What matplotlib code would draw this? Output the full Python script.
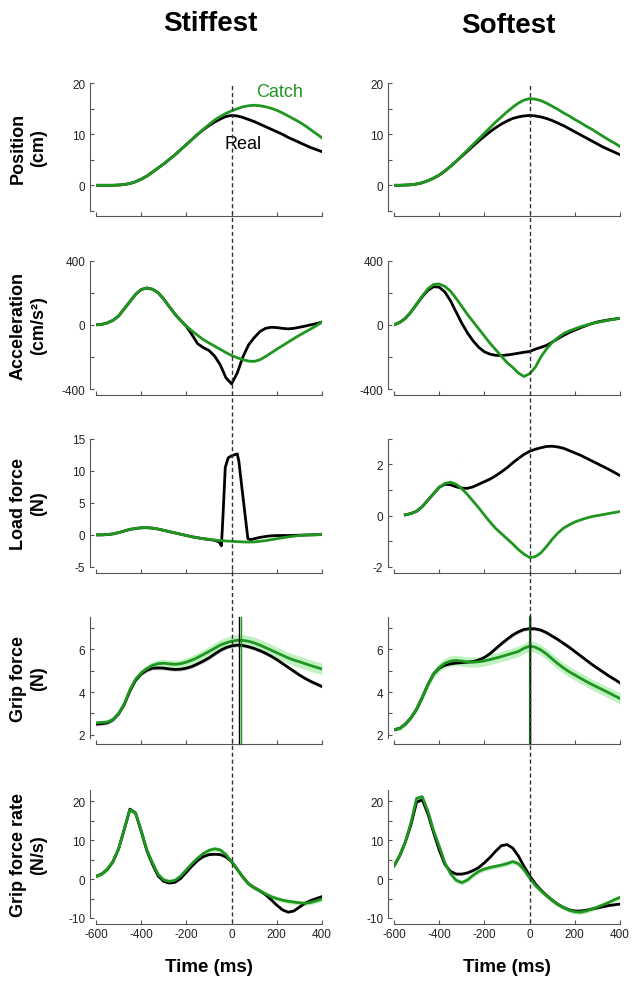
#!/usr/bin/env python3
#
import matplotlib.pyplot as plt
import numpy as np

plt.rcParams.update({
  'font.family': ['Liberation Sans', 'DejaVu Sans'],
  'font.size': 8.5,
  'axes.linewidth': 0.8,
})

W, H = 638, 987
GREEN = '#1f961f'
BAND_GREEN = '#a6eca6'
BAND_GRAY = '#b0b0b0'
AXIS_GRAY = '#555555'

TIME = np.arange(-600, 401, 25)
XTICKS = [-600, -400, -200, 0, 200, 400]

# position (cm)
POS_L_CATCH = [0, 0, 0, 0, 0.05, 0.15, 0.35, 0.7,
               1.2, 1.8, 2.6, 3.4, 4.2, 5.1, 6.0, 7.0,
               8.0, 9.0, 10.0, 11.0, 11.9, 12.8, 13.5, 14.1,
               14.6, 15.0, 15.4, 15.6, 15.7, 15.6, 15.4, 15.1,
               14.7, 14.2, 13.6, 13.0, 12.4, 11.7, 10.9, 10.1,
               9.3]
POS_L_REAL = [0, 0, 0, 0, 0.05, 0.15, 0.35, 0.7,
              1.2, 1.8, 2.6, 3.4, 4.2, 5.1, 6.0, 7.0,
              8.0, 9.0, 10.0, 10.9, 11.7, 12.4, 13.0, 13.5,
              13.7, 13.6, 13.3, 12.9, 12.5, 12.0, 11.5, 11.0,
              10.5, 10.0, 9.4, 8.9, 8.4, 7.9, 7.4, 7.0,
              6.6]
POS_R_CATCH = [0, 0, 0.05, 0.1, 0.25, 0.5, 0.9, 1.4,
               2.0, 2.8, 3.7, 4.7, 5.8, 6.9, 8.0, 9.1,
               10.2, 11.3, 12.4, 13.4, 14.4, 15.3, 16.1, 16.7,
               17.0, 16.9, 16.6, 16.1, 15.5, 14.9, 14.2, 13.6,
               12.9, 12.3, 11.6, 11.0, 10.3, 9.6, 8.9, 8.3,
               7.6]
POS_R_REAL = [0, 0, 0.05, 0.1, 0.25, 0.5, 0.9, 1.4,
              2.0, 2.8, 3.7, 4.7, 5.7, 6.7, 7.7, 8.7,
              9.6, 10.5, 11.3, 12.0, 12.6, 13.1, 13.4, 13.6,
              13.7, 13.6, 13.4, 13.1, 12.7, 12.2, 11.7, 11.1,
              10.5, 9.9, 9.3, 8.7, 8.1, 7.5, 7.0, 6.5,
              6.0]

# acceleration (cm/s2)
ACC_L_CATCH = [0, 3, 12, 28, 55, 100, 145, 190,
               220, 230, 222, 200, 160, 112, 66, 27,
               -8, -38, -66, -92, -113, -133, -153, -173,
               -191, -205, -217, -226, -228, -218, -198, -175,
               -152, -130, -108, -86, -65, -45, -26, -5,
               17]
ACC_L_REAL = [0, 3, 12, 28, 55, 100, 145, 190,
              220, 230, 222, 200, 160, 112, 66, 27,
              -10, -62, -118, -142, -160, -195, -250, -330,
              -368, -300, -200, -125, -80, -42, -22, -15,
              -17, -22, -25, -22, -15, -8, 0, 8,
              17]
ACC_R_CATCH = [0, 15, 40, 80, 130, 180, 225, 252,
               255, 240, 210, 165, 115, 65, 20, -25,
               -70, -115, -155, -195, -235, -265, -300, -322,
               -305, -265, -200, -150, -110, -80, -55, -38,
               -25, -12, -2, 8, 15, 22, 29, 35,
               41]
ACC_R_REAL = [0, 15, 40, 80, 128, 175, 215, 238,
              235, 205, 150, 80, 10, -50, -100, -140,
              -168, -183, -190, -191, -188, -183, -177, -171,
              -166, -152, -140, -128, -108, -86, -66, -48,
              -33, -18, -5, 8, 18, 25, 31, 36,
              41]

# load force (N)
LF_L_CATCH = [0, 0, 0.05, 0.15, 0.35, 0.6, 0.85, 1.0,
              1.1, 1.12, 1.05, 0.9, 0.7, 0.5, 0.3, 0.1,
              -0.1, -0.3, -0.45, -0.6, -0.7, -0.8, -0.9, -0.95,
              -1.0, -1.05, -1.1, -1.12, -1.1, -1.0, -0.9, -0.75,
              -0.6, -0.45, -0.32, -0.2, -0.1, -0.03, 0.0, 0.02,
              0.05]
LF_L_REAL_TIME = [-600, -575, -550, -525, -500, -475, -450, -425,
                  -400, -375, -350, -325, -300, -275, -250, -225,
                  -200, -175, -150, -125, -100, -75, -55, -45,
                  -38, -28, -15, 0, 15, 25, 32, 45,
                  60, 72, 85, 100, 125, 150, 175, 200,
                  250, 300, 350, 400]
LF_L_REAL = [0, 0, 0.05, 0.15, 0.35, 0.6, 0.85, 1.0,
             1.1, 1.12, 1.05, 0.9, 0.7, 0.5, 0.3, 0.1,
             -0.1, -0.3, -0.45, -0.6, -0.72, -0.85, -1.1, -1.7,
             3.0, 10.5, 12.0, 12.3, 12.5, 12.6, 11.5, 7.5,
             3.0, -0.6, -0.75, -0.6, -0.4, -0.25, -0.15, -0.1,
             -0.1, -0.05, 0, 0.05]
LF_R_TIME = np.arange(-550, 401, 25)
LF_R_CATCH = [0.03, 0.08, 0.17, 0.35, 0.6, 0.85, 1.1, 1.25,
              1.3, 1.22, 1.05, 0.82, 0.56, 0.3, 0.02, -0.25,
              -0.5, -0.7, -0.9, -1.1, -1.32, -1.5, -1.63, -1.6,
              -1.45, -1.2, -0.92, -0.68, -0.49, -0.36, -0.25, -0.17,
              -0.1, -0.04, 0.0, 0.04, 0.08, 0.12, 0.16]
LF_R_REAL = [0.03, 0.08, 0.17, 0.35, 0.6, 0.85, 1.1, 1.22,
             1.2, 1.12, 1.07, 1.06, 1.12, 1.22, 1.32, 1.42,
             1.55, 1.7, 1.86, 2.05, 2.22, 2.38, 2.5, 2.58,
             2.64, 2.69, 2.7, 2.67, 2.62, 2.53, 2.44, 2.35,
             2.24, 2.13, 2.02, 1.91, 1.8, 1.68, 1.56]

# grip force (N), mean and band half-width
GF_L_CATCH = [2.56, 2.58, 2.6, 2.72, 3.0, 3.45, 4.1, 4.6,
              4.9, 5.1, 5.25, 5.33, 5.35, 5.32, 5.3, 5.33,
              5.4, 5.5, 5.62, 5.76, 5.9, 6.05, 6.2, 6.3,
              6.38, 6.42, 6.42, 6.38, 6.3, 6.2, 6.08, 5.96,
              5.84, 5.72, 5.6, 5.5, 5.42, 5.33, 5.24, 5.16,
              5.08]
GF_L_CATCH_SEM = [0.08, 0.08, 0.08, 0.09, 0.1, 0.12, 0.14, 0.15,
                  0.16, 0.17, 0.18, 0.18, 0.18, 0.18, 0.18, 0.19,
                  0.2, 0.21, 0.22, 0.23, 0.24, 0.25, 0.26, 0.26,
                  0.27, 0.27, 0.27, 0.27, 0.27, 0.27, 0.27, 0.27,
                  0.27, 0.27, 0.27, 0.27, 0.27, 0.27, 0.27, 0.27,
                  0.27]
GF_L_REAL = [2.5, 2.52, 2.56, 2.7, 2.98, 3.42, 4.05, 4.55,
             4.85, 5.02, 5.12, 5.13, 5.12, 5.08, 5.06, 5.07,
             5.12, 5.2, 5.32, 5.45, 5.6, 5.78, 5.95, 6.08,
             6.16, 6.2, 6.18, 6.12, 6.04, 5.94, 5.82, 5.68,
             5.52, 5.34, 5.16, 4.98, 4.8, 4.64, 4.5, 4.38,
             4.26]
GF_R_CATCH = [2.24, 2.3, 2.5, 2.8, 3.2, 3.75, 4.35, 4.85,
              5.15, 5.35, 5.45, 5.48, 5.45, 5.41, 5.4, 5.42,
              5.46, 5.52, 5.59, 5.66, 5.74, 5.82, 5.9, 6.05,
              6.15, 6.1, 5.97, 5.78, 5.55, 5.33, 5.13, 4.95,
              4.8, 4.65, 4.5, 4.36, 4.23, 4.1, 3.97, 3.83,
              3.7]
GF_R_CATCH_SEM = [0.08, 0.09, 0.1, 0.12, 0.14, 0.16, 0.18, 0.2,
                  0.22, 0.23, 0.24, 0.24, 0.24, 0.24, 0.24, 0.24,
                  0.24, 0.24, 0.24, 0.24, 0.24, 0.25, 0.25, 0.25,
                  0.25, 0.25, 0.25, 0.25, 0.25, 0.25, 0.25, 0.25,
                  0.25, 0.25, 0.25, 0.25, 0.25, 0.25, 0.25, 0.25,
                  0.25]
GF_R_REAL = [2.24, 2.3, 2.5, 2.8, 3.2, 3.75, 4.35, 4.85,
             5.12, 5.26, 5.32, 5.36, 5.38, 5.4, 5.43, 5.5,
             5.62, 5.8, 6.03, 6.26, 6.47, 6.67, 6.82, 6.93,
             6.97, 6.96, 6.9, 6.78, 6.62, 6.46, 6.28, 6.1,
             5.9, 5.7, 5.5, 5.3, 5.12, 4.94, 4.76, 4.6,
             4.43]
GF_REAL_SEM = 0.08
# time of grip force peak (ms): stiffest real / catch, softest real / catch
GF_PEAKS = [(32, 42), (0, 1)]

# grip force rate (N/s)
GR_L_CATCH = [0.7, 1.3, 2.5, 4.5, 7.8, 12.8, 17.8, 17.0,
              12.5, 7.5, 4.2, 1.2, -0.2, -0.6, -0.3, 0.8,
              2.4, 4.0, 5.4, 6.6, 7.4, 7.8, 7.5, 6.3,
              4.5, 2.5, 0.5, -1.2, -2.2, -3.0, -3.8, -4.5,
              -5.0, -5.4, -5.7, -5.9, -6.1, -6.2, -6.0, -5.6,
              -5.1]
GR_L_REAL = [0.7, 1.3, 2.5, 4.5, 7.8, 12.8, 18.0, 17.0,
             12.3, 7.3, 3.8, 0.8, -0.6, -1.0, -0.8, 0.2,
             1.8, 3.4, 4.8, 5.8, 6.3, 6.4, 6.3, 5.7,
             4.5, 2.5, 0.5, -1.2, -2.2, -3.0, -4.0, -5.3,
             -6.7, -7.9, -8.5, -8.2, -7.2, -6.2, -5.5, -5.0,
             -4.5]
GR_R_CATCH = [3.4, 6.0, 9.5, 14.5, 20.8, 21.2, 17.5, 12.5,
              8.5, 4.2, 1.4, -0.3, -0.9, -0.2, 1.0, 2.0,
              2.6, 3.0, 3.3, 3.6, 4.0, 4.5, 4.0, 2.4,
              0.3, -1.6, -3.0, -4.3, -5.5, -6.5, -7.3, -8.0,
              -8.4, -8.5, -8.2, -7.7, -7.2, -6.6, -6.0, -5.3,
              -4.7]
GR_R_REAL = [3.4, 6.0, 9.5, 14.0, 19.8, 20.4, 16.8, 12.0,
             7.5, 3.8, 2.0, 1.3, 1.3, 1.6, 2.2, 3.0,
             4.2, 5.6, 7.2, 8.6, 8.9, 8.0, 6.0, 3.3,
             0.9, -1.2, -2.8, -4.2, -5.4, -6.5, -7.3, -7.9,
             -8.2, -8.2, -8.0, -7.7, -7.4, -7.1, -6.8, -6.6,
             -6.4]
GR_CATCH_SEM = 0.6
GR_REAL_SEM = 0.25

COLUMNS = ['Stiffest', 'Softest']
ROW_LABELS = ['Position\n(cm)', 'Acceleration\n(cm/s\u00b2)', 'Load force\n(N)',
              'Grip force\n(N)', 'Grip force rate\n(N/s)']

# pixel boxes of the axes
COL_X = [(96, 322), (394, 620)]
ROW_Y = [(84.3, 211.8), (261.7, 390), (439.5, 568), (618.3, 739), (790.7, 919)]


def add_axes(fig, xr, yr):
  left, right = xr
  top, bottom = yr
  return fig.add_axes([left / W, 1 - bottom / H, (right - left) / W, (bottom - top) / H])


def style(ax, ylim, yticks, ylabels, xlabels=False):
  ax.set_xlim(-600, 400)
  ax.set_ylim(*ylim)
  ax.patch.set_visible(False)
  for side in ('top', 'right'):
    ax.spines[side].set_visible(False)
  ax.spines['left'].set_position(('outward', 4.3))
  ax.spines['bottom'].set_position(('outward', 4))
  for side in ('left', 'bottom'):
    ax.spines[side].set_color(AXIS_GRAY)
  ax.set_yticks(yticks)
  ax.set_yticklabels(ylabels)
  ax.set_xticks(XTICKS)
  ax.set_xticklabels([str(t) for t in XTICKS] if xlabels else [])
  ax.tick_params(direction='in', length=3, width=0.8, color=AXIS_GRAY,
                 labelcolor='#222222', pad=3.5)


def pair(ax, t_real, real, t_catch, catch):
  ax.plot(t_real, real, color='black', lw=2, solid_joinstyle='round')
  ax.plot(t_catch, catch, color=GREEN, lw=2, solid_joinstyle='round')


def band(ax, t, y, sem, color):
  y = np.asarray(y)
  ax.fill_between(t, y - sem, y + sem, color=color, lw=0, alpha=0.7)


def main():
  fig = plt.figure(figsize=(W / 100, H / 100), dpi=100)

  pos = [(POS_L_REAL, POS_L_CATCH), (POS_R_REAL, POS_R_CATCH)]
  acc = [(ACC_L_REAL, ACC_L_CATCH), (ACC_R_REAL, ACC_R_CATCH)]
  gf = [(GF_L_REAL, GF_L_CATCH, GF_L_CATCH_SEM), (GF_R_REAL, GF_R_CATCH, GF_R_CATCH_SEM)]
  gr = [(GR_L_REAL, GR_L_CATCH), (GR_R_REAL, GR_R_CATCH)]

  for c, xr in enumerate(COL_X):
    # position
    ax = add_axes(fig, xr, ROW_Y[0])
    pair(ax, TIME, pos[c][0], TIME, pos[c][1])
    style(ax, (-5, 20), [-5, 0, 5, 10, 15, 20], ['', '0', '', '10', '', '20'])
    if c == 0:
      ax.text(212, 18.4, 'Catch', color=GREEN, fontsize=13, ha='center', va='center')
      ax.text(49, 8.2, 'Real', color='black', fontsize=13, ha='center', va='center')

    # acceleration
    ax = add_axes(fig, xr, ROW_Y[1])
    pair(ax, TIME, acc[c][0], TIME, acc[c][1])
    style(ax, (-400, 400), [-400, -200, 0, 200, 400], ['-400', '', '0', '', '400'])

    # load force
    ax = add_axes(fig, xr, ROW_Y[2])
    if c == 0:
      pair(ax, LF_L_REAL_TIME, LF_L_REAL, TIME, LF_L_CATCH)
      style(ax, (-5, 15), [-5, 0, 5, 10, 15], ['-5', '0', '5', '10', '15'])
    else:
      pair(ax, LF_R_TIME, LF_R_REAL, LF_R_TIME, LF_R_CATCH)
      style(ax, (-2, 3), [-2, -1, 0, 1, 2, 3], ['-2', '', '0', '', '2', ''])

    # grip force
    ax = add_axes(fig, xr, ROW_Y[3])
    real, catch, sem = gf[c]
    band(ax, TIME, real, GF_REAL_SEM, BAND_GRAY)
    band(ax, TIME, catch, np.asarray(sem), BAND_GREEN)
    pair(ax, TIME, real, TIME, catch)
    t_real, t_catch = GF_PEAKS[c]
    ax.axvline(t_catch, ymin=-0.05, color=GREEN, lw=1.6 if c else 1.0, clip_on=False)
    ax.axvline(t_real, ymin=-0.05, color='black', lw=1.0, clip_on=False)
    style(ax, (1.85, 7.5), [2, 3, 4, 5, 6, 7], ['2', '', '4', '', '6', ''])

    # grip force rate
    ax = add_axes(fig, xr, ROW_Y[4])
    real, catch = gr[c]
    band(ax, TIME, real, GR_REAL_SEM, BAND_GRAY)
    band(ax, TIME, catch, GR_CATCH_SEM, BAND_GREEN)
    pair(ax, TIME, real, TIME, catch)
    style(ax, (-10, 23), [-10, -5, 0, 5, 10, 15, 20], ['-10', '', '0', '', '10', '', '20'],
          xlabels=True)

    # dashed line at movement reversal, across all rows
    over = add_axes(fig, xr, (84, 924))
    over.set_xlim(-600, 400)
    over.axis('off')
    over.axvline(0, color='#333333', lw=1.0, ls=(0, (3, 2)))

    cx = (xr[0] + xr[1]) / 2
    fig.text(cx / W, 1 - 967.5 / H, 'Time (ms)', ha='center', va='center',
             fontsize=13.5, fontweight='bold')

  for name, x, y in zip(COLUMNS, (210, 508), (24, 26)):
    fig.text(x / W, 1 - y / H, name, ha='center', va='center', fontsize=20,
             fontweight='bold')

  for label, (top, bottom) in zip(ROW_LABELS, ROW_Y):
    fig.text(28.5 / W, 1 - (top + bottom) / 2 / H, label, rotation=90, ha='center',
             va='center', fontsize=13, fontweight='bold', linespacing=1.25,
             multialignment='center')

  fig.savefig('out.png', dpi=100)
  plt.close(fig)


if __name__ == '__main__':
  main()
